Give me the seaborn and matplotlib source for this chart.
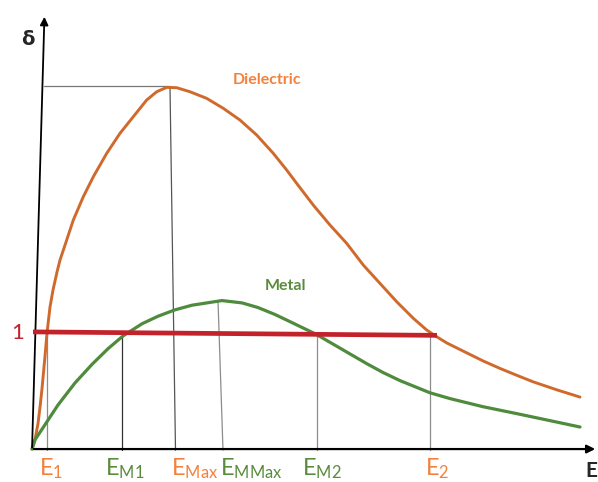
import numpy as np
import pandas as pd
import seaborn as sns
import matplotlib.pyplot as plt

# Secondary electron yield vs primary energy (arbitrary energy units)
diel_e = [0.0, 0.3, 0.6, 0.8, 1.0, 1.3, 1.5, 1.8, 2.1, 2.5, 2.8, 3.47, 4.13, 5.13, 6.13,
          7.47, 8.8, 10.13, 11.47, 12.47, 13.47, 14.47, 15.8, 17.47, 19.13, 20.8, 22.47,
          24.13, 25.47, 26.47, 28.13, 29.8, 31.47, 33.13, 34.8, 36.47, 38.13, 39.47, 40.47,
          41.47, 42.8, 45.1, 46.8, 48.5, 50.1, 52.5, 54.8]
diel_d = [0.0, 0.08, 0.22, 0.36, 0.52, 0.8, 1.0, 1.224, 1.371, 1.526, 1.629, 1.802,
          1.974, 2.175, 2.347, 2.549, 2.722, 2.865, 3.009, 3.080, 3.118, 3.115, 3.080, 3.023,
          2.937, 2.836, 2.707, 2.549, 2.405, 2.290, 2.103, 1.931, 1.773, 1.586, 1.428, 1.270,
          1.127, 1.026, 0.968, 0.915, 0.858, 0.76, 0.695, 0.635, 0.58, 0.51, 0.448]
metal_e = [0.0, 0.3, 1.3, 2.6, 4.3, 6.0, 7.6, 9.1, 11.0, 12.6, 14.3, 16.0, 19.0, 21.0, 22.6,
           24.3, 26.0, 28.4, 30.1, 31.8, 33.5, 35.1, 36.8, 39.8, 41.8, 45.1, 48.5, 51.8, 54.8]
metal_d = [0.0, 0.08, 0.21, 0.38, 0.57, 0.73, 0.865, 0.975, 1.08, 1.145, 1.20, 1.24, 1.28,
           1.26, 1.22, 1.16, 1.09, 0.99, 0.905, 0.82, 0.735, 0.66, 0.59, 0.485, 0.435, 0.365,
           0.305, 0.245, 0.19]

# delta = 1 line
unity_e = [0.1, 40.5]
unity_d = [1.01, 0.98]

# marked energies: x at top, x at axis, height of guide
mark_top = [1.47, 9.0, 13.8, 18.6, 28.5, 39.8]
mark_bot = [1.47, 9.0, 14.35, 19.1, 28.5, 39.8]
mark_height = [1.0, 0.99, 3.12, 1.28, 0.99, 0.98]
mark_labels = [r'$\mathregular{E_1}$', r'$\mathregular{E_{M1}}$', r'$\mathregular{E_{Max}}$',
               r'$\mathregular{E_{MMax}}$', r'$\mathregular{E_{M2}}$', r'$\mathregular{E_2}$']
label_x = [0.7, 7.3, 13.9, 18.8, 27.0, 39.3]

orange = '#cf6a2c'
orange_txt = '#f3813e'
green = '#4f8b3d'
green_txt = '#5a8c3e'
red = '#c4222b'
mark_colors = [orange_txt, green_txt, orange_txt, green_txt, green_txt, orange_txt]
guide_colors = ['#8c8c8c', '#333333', '#555555', '#8c8c8c', '#8c8c8c', '#8c8c8c']

sns.set_style('white')
plt.rcParams['font.family'] = ['Lato', 'DejaVu Sans']
plt.rcParams['mathtext.fontset'] = 'custom'

fig = plt.figure(figsize=(5.98, 4.82), dpi=100)
ax = fig.add_axes([0, 0, 1, 1])
ax.set_xlim(-3.2, 56.6)
ax.set_ylim(-0.284, 3.871)
ax.axis('off')

# guide lines
for xt, xb, h, c in zip(mark_top, mark_bot, mark_height, guide_colors):
    ax.plot([xt, xb], [h, -0.01], color=c, lw=0.9, zorder=1)
ax.plot([1.2, 13.8], [3.13, 3.13], color='#777777', lw=0.9, zorder=1)

df_d = pd.DataFrame({'E': diel_e, 'delta': diel_d})
df_m = pd.DataFrame({'E': metal_e, 'delta': metal_d})
sns.lineplot(data=df_d, x='E', y='delta', ax=ax, color=orange, lw=2.1, sort=False, zorder=3,
             solid_joinstyle='round', solid_capstyle='round')
sns.lineplot(data=df_m, x='E', y='delta', ax=ax, color=green, lw=2.3, sort=False, zorder=3,
             solid_joinstyle='round', solid_capstyle='round')
ax.plot(unity_e, unity_d, color=red, lw=3.4, zorder=4, solid_capstyle='butt')

# axes arrows
ax.annotate('', xy=(56.6, 0), xytext=(-0.1, 0),
            arrowprops=dict(arrowstyle='-|>', lw=1.6, color='black', mutation_scale=12))
ax.annotate('', xy=(1.25, 3.75), xytext=(0.0, -0.01),
            arrowprops=dict(arrowstyle='-|>', lw=1.3, color='black', mutation_scale=12))

ax.text(-0.4, 3.53, 'δ', fontsize=14, fontweight='bold', ha='center', va='center',
        family=['DejaVu Sans'])
ax.text(56.55, -0.24, 'E', fontsize=15, fontweight='bold', ha='right', va='baseline')
ax.text(-1.4, 1.0, '1', fontsize=16, color=red, ha='center', va='center')
ax.text(23.5, 3.18, 'Dielectric', fontsize=11.5, fontweight='bold', color=orange_txt,
        ha='center', va='center')
ax.text(25.3, 1.405, 'Metal', fontsize=11.5, fontweight='bold', color=green_txt,
        ha='center', va='center')

for lx, lab, c in zip(label_x, mark_labels, mark_colors):
    ax.text(lx, -0.225, lab, fontsize=17, color=c, ha='left', va='baseline')

fig.savefig('out.png', dpi=100)
